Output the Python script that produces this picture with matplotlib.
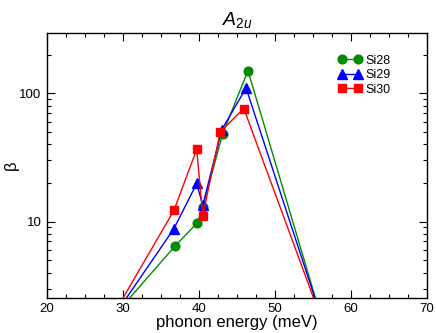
import matplotlib as mpl
mpl.use('Agg')
import matplotlib.pyplot as plt
from matplotlib.ticker import MultipleLocator, LogLocator, NullFormatter, FixedLocator, FixedFormatter

plt.rcParams['font.family'] = ['Liberation Sans', 'DejaVu Sans']
plt.rcParams['mathtext.fontset'] = 'custom'
plt.rcParams['mathtext.it'] = 'Liberation Sans:italic'
plt.rcParams['mathtext.rm'] = 'Liberation Sans'

# phonon energy (meV) and beta for each isotope
x_si28 = [28.0, 36.8, 39.8, 40.5, 43.1, 46.45, 57.0]
y_si28 = [1.62, 6.4, 9.8, 13.0, 48.0, 150.0, 1.18]

x_si29 = [28.0, 36.7, 39.7, 40.5, 43.0, 46.2, 57.0]
y_si29 = [1.56, 8.8, 19.8, 13.4, 52.0, 110.0, 1.23]

x_si30 = [28.0, 36.7, 39.7, 40.5, 42.8, 45.9, 57.0]
y_si30 = [1.59, 12.2, 36.5, 11.1, 50.0, 76.0, 1.25]

fig = plt.figure(figsize=(4.36, 3.33), dpi=100)
ax = fig.add_axes([0.108, 0.106, 0.871, 0.795])

ax.plot(x_si28, y_si28, color='#008c00', marker='o', markersize=6.3, lw=1.0, label='Si28')
ax.plot(x_si29, y_si29, color='#0000ff', marker='^', markersize=7, lw=1.0, label='Si29')
ax.plot(x_si30, y_si30, color='#ff0000', marker='s', markersize=5.8, lw=1.0, label='Si30')

ax.set_yscale('log')
ax.set_xlim(20, 70)
ax.set_ylim(2.55, 295)

ax.xaxis.set_major_locator(MultipleLocator(10))
ax.xaxis.set_minor_locator(MultipleLocator(2.5))
ax.yaxis.set_major_locator(FixedLocator([10, 100]))
ax.yaxis.set_major_formatter(FixedFormatter(['10', '100']))
ax.yaxis.set_minor_locator(LogLocator(base=10, subs=range(2, 10)))
ax.yaxis.set_minor_formatter(NullFormatter())

ax.tick_params(which='both', direction='in', top=True, right=True, labelsize=9.5)
ax.tick_params(which='major', length=6, width=0.8, pad=4)
ax.tick_params(which='minor', length=3, width=0.8)
for s in ax.spines.values():
    s.set_linewidth(1.0)

ax.set_xlabel('phonon energy (meV)', fontsize=12, labelpad=0)
ax.set_ylabel('β', fontsize=12)
ax.yaxis.set_label_coords(-0.075, 0.5)
ax.set_title('$A_{2u}$', fontsize=14, pad=6)

ax.legend(loc='upper right', bbox_to_anchor=(0.935, 0.96), frameon=False, fontsize=9,
          numpoints=2, handlelength=1.9, handletextpad=0.3, labelspacing=0.2)

plt.savefig('out.png', dpi=100)
